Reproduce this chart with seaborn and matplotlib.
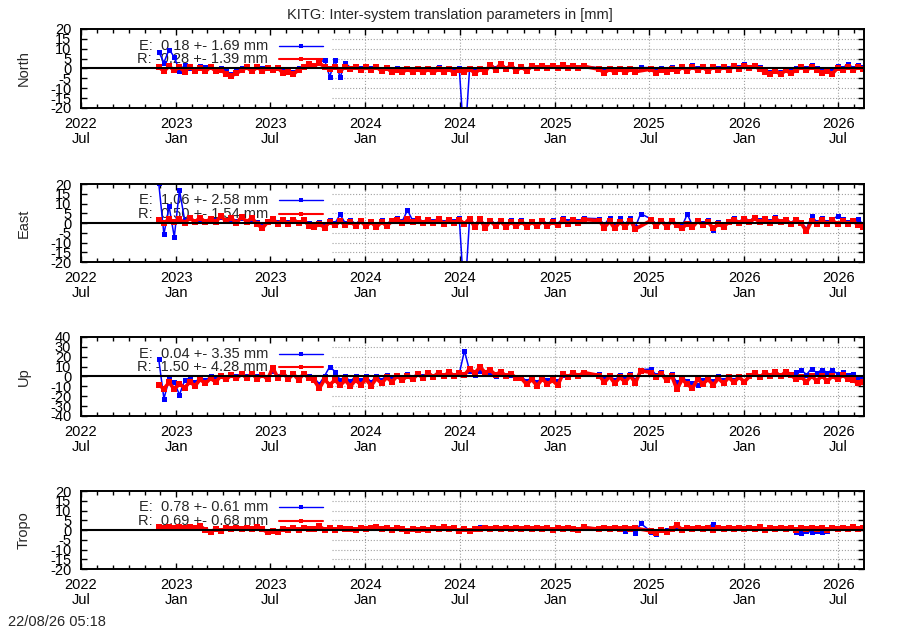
import numpy as np
import pandas as pd
import matplotlib
matplotlib.use("Agg")
import matplotlib.pyplot as plt
import matplotlib.dates as mdates
import seaborn as sns

nan = np.nan

# ---- DATA: one value every 10 days from START, nan = no solution ----
START = "2022-11-28"
STEP = "10D"

NORTH_E = [8.5, 3.0, 9.6, 5.8, -1.2, 1.6, 0.4, -0.8, 1.2, 0.6,
           0.9, -0.4, 0.3, -1.5, -2.6, -1.5, 0.2, 0.9, -0.2, 0.8,
           0.3, 0.9, -0.2, 0.6, -1.4, -0.6, -1.8, 0.2, 1.2, 2.3,
           2.0, 2.8, 4.4, -4.2, 4.3, -4.4, 2.8, 0.4, 0.8, 0.2,
           0.9, 0.1, 1.1, -0.6, 0.6, -1.0, 0.2, -1.1, 0.4, -0.9,
           0.4, -1.0, 0.3, -1.2, 0.5, -1.0, 0.2, -1.3, 0.1, -40.0,
           0.4, -1.3, 0.2, -0.8, 2.2, 0.3, 2.6, 0.4, 1.9, -0.4,
           1.2, -0.5, 1.5, 0.8, 1.6, 0.9, 1.7, 0.8, 1.8, 0.9,
           1.5, 0.8, 1.2, nan, nan, 0.3, -1.2, 0.4, -1.0, 0.3,
           -1.1, 0.2, -0.8, 0.5, nan, 0.4, -1.2, 0.1, -1.0, 0.5,
           -0.6, 1.3, -0.3, 1.6, 0.1, 1.4, -0.2, 1.5, 0.2, 1.4,
           0.3, 2.0, 0.6, 2.4, 0.9, 1.9, 0.5, -0.9, -1.7, -0.3,
           -2.0, -0.2, -1.5, 0.1, 1.3, 0.2, 1.6, 0.3, -1.2, -0.4,
           -1.5, 1.4, 0.3, 2.3, 0.4, 1.6, 0.5]
NORTH_R = [0.8, -1.4, 1.1, -1.0, 0.6, -1.6, 0.9, -1.2, 0.4, -1.5,
           0.7, -1.3, -0.8, -2.6, -3.8, -2.4, -0.9, 0.5, -1.4, 0.6,
           -1.2, 0.4, -1.0, 0.3, -2.4, -1.6, -2.9, -0.6, 0.8, 2.2,
           1.4, 2.6, 0.9, -0.4, 1.0, -0.8, 0.6, -0.5, 0.9, -0.7,
           0.5, -0.6, 0.8, -1.3, 0.2, -1.8, -0.6, -1.9, -0.4, -1.7,
           -0.3, -1.9, -0.5, -2.0, -0.2, -1.8, -0.4, -2.1, -0.6, -1.7,
           -0.3, -2.2, -0.5, -1.6, 1.8, -0.6, 2.4, -0.4, 1.6, -1.2,
           0.9, -1.3, 1.2, 0.1, 1.5, 0.3, 1.4, 0.2, 1.6, 0.4,
           1.3, 0.2, 1.1, nan, nan, -0.4, -2.2, -0.3, -1.9, -0.2,
           -2.0, -0.5, -1.6, nan, nan, -0.3, -2.1, -0.6, -1.8, -0.2,
           -1.5, 0.6, -1.1, 0.8, -0.9, 0.5, -1.2, 0.7, -0.8, 0.6,
           -0.6, 1.2, -0.2, 1.4, 0.1, 1.1, -0.3, -1.8, -2.6, -1.2,
           -2.9, -1.0, -2.4, -0.8, 0.7, -0.9, 0.9, -0.6, -2.3, -1.4,
           -2.6, 0.2, -0.9, 0.8, -0.7, 0.6, -0.5]

EAST_E = [20.5, -5.8, 8.5, -7.2, 17.0, 1.5, 2.9, 1.2, 2.2, 1.0,
          1.8, 1.3, 2.9, 1.1, 2.0, 0.8, 2.6, 1.2, 2.3, 0.4,
          -1.5, 1.1, 2.4, 0.5, 2.0, 0.3, 2.2, 0.4, 1.9, -0.2,
          -1.1, 0.6, -1.0, 1.4, -0.2, 4.4, -0.1, 1.5, -0.4, 1.6,
          -0.6, 1.2, -1.1, 1.4, -0.5, 1.6, 2.4, 0.9, 6.6, 1.3,
          2.5, 0.7, 2.3, 0.9, 2.6, 0.6, 2.1, 1.0, 2.4, -40.0,
          2.8, -1.2, 2.5, -1.4, 1.7, -0.6, 1.5, -1.0, 1.4, -0.8,
          1.4, -0.9, 1.2, -0.7, 1.6, -0.5, 1.3, -0.3, 2.4, 1.2,
          2.3, 1.1, 2.5, nan, nan, 2.2, -1.0, 2.8, -1.5, 2.5,
          -0.6, 2.6, -1.8, 4.8, nan, 2.1, -0.5, 1.8, -0.9, 1.7,
          -0.4, -1.5, 4.5, -1.2, 1.6, 0.1, 1.3, -3.4, 0.3, -1.0,
          1.2, 2.5, 0.6, 2.8, 1.1, 3.0, 1.3, 2.6, 0.9, 2.9,
          1.0, 2.3, 0.2, 2.1, 0.6, -3.0, 3.6, 0.5, 2.4, 0.4,
          2.1, 3.4, 1.9, 0.6, 1.7, 2.2, -1.2]
EAST_R = [1.8, -0.2, 2.1, 0.3, 1.9, 0.2, 2.4, 0.6, 2.7, 0.4,
          2.2, 0.5, 3.6, 0.8, 2.5, 0.1, 3.1, 0.7, 2.6, -0.6,
          -2.6, 0.4, 1.9, -0.3, 1.6, -0.5, 1.8, -0.2, 1.4, -1.3,
          -2.1, -0.4, -2.3, 0.6, -1.2, 0.9, -1.0, 0.7, -1.4, 0.8,
          -1.6, 0.5, -2.2, 0.6, -1.5, 0.9, 1.8, 0.2, 2.1, 0.4,
          1.9, -0.2, 1.6, 0.1, 2.0, -0.3, 1.5, 0.2, 1.7, -0.4,
          2.3, -2.2, 1.9, -2.4, 1.0, -1.5, 0.8, -1.9, 0.6, -1.7,
          0.7, -1.8, 0.5, -1.6, 0.9, -1.4, 0.6, -1.2, 1.4, -0.3,
          1.6, 0.2, 1.8, nan, nan, 1.2, -2.4, 0.9, -2.8, 0.6,
          -1.9, 1.1, -3.0, nan, nan, 1.3, -1.5, 1.0, -1.8, 0.8,
          -1.2, -2.6, -0.4, -2.1, 0.9, -0.9, 0.6, -2.8, -0.5, -1.9,
          0.4, 1.8, -0.2, 2.1, 0.3, 2.4, 0.5, 1.9, 0.1, 2.2,
          0.3, 1.6, -0.6, 1.4, -0.2, -4.3, 1.2, -0.4, 1.5, -0.5,
          1.3, -0.6, 1.1, -0.3, 0.9, -0.9, -2.2]

UP_E = [17.5, -22.5, -3.0, -6.0, -18.5, -4.0, -2.5, -6.0, -1.0, -4.0,
        0.0, -3.0, 2.0, -1.0, 2.5, 0.0, 3.5, 0.5, 3.5, 0.0,
        2.5, -1.0, 6.0, 0.5, 3.5, -0.5, 3.0, -1.5, 3.5, 0.0,
        -1.5, -7.5, 0.5, 10.0, 5.0, -3.5, 0.0, -5.0, 0.5, -4.0,
        0.0, -5.5, 1.0, -3.5, 1.5, -2.5, 2.0, -1.5, 2.5, -0.5,
        3.0, 0.5, 3.5, 1.0, 4.0, 1.5, 4.0, 1.5, 3.0, 26.0,
        5.5, 2.0, 6.0, 2.5, 4.0, 0.5, 3.5, 0.0, 2.0, -0.5,
        -0.5, -4.5, -1.0, -6.0, -0.5, -4.0, -1.5, -5.0, 2.0, 0.5,
        2.5, 1.0, 3.0, nan, nan, 2.5, -3.0, 2.0, -4.0, 1.5,
        -2.5, 2.5, -3.5, 7.0, nan, 7.5, 1.5, 5.0, -1.5, 2.5,
        -6.0, -1.0, -4.5, -7.0, -8.5, -4.0, -1.0, -5.0, 0.0, -4.0,
        0.5, -3.5, 1.0, -5.5, 1.5, 2.5, 0.0, 3.0, 1.5, 3.5,
        1.5, 4.0, 2.5, 4.5, 6.5, 2.0, 8.0, 3.5, 7.0, 4.0,
        6.5, 2.5, 4.5, 1.5, 3.0, -1.0, -3.0]
UP_R = [-8.5, -12.5, -6.0, -13.0, -7.5, -11.5, -5.5, -9.5, -3.0, -7.0,
        -2.0, -5.5, 0.5, -3.0, 1.5, -2.0, 2.5, -1.5, 3.0, -2.5,
        2.0, -3.0, 9.0, -1.5, 3.5, -2.5, 2.5, -3.5, 3.0, -2.0,
        -4.0, -12.0, -3.0, -8.5, -3.5, -9.0, -4.0, -10.0, -3.5, -8.5,
        -3.0, -9.5, -2.0, -7.0, -1.0, -5.5, 0.5, -4.0, 1.0, -3.0,
        2.5, -1.5, 3.5, -0.5, 4.0, 0.0, 4.5, 0.5, 3.5, 1.5,
        8.0, 3.5, 9.5, 4.0, 6.5, 1.5, 5.0, 0.5, 2.5, -1.5,
        -2.0, -8.0, -3.0, -9.5, -2.5, -7.5, -4.0, -9.0, 2.5, -0.5,
        3.5, 0.5, 4.0, nan, nan, 1.0, -6.0, 0.0, -7.0, -1.0,
        -5.5, 0.5, -6.5, 6.0, nan, 4.0, -1.0, 3.0, -4.0, 0.5,
        -13.0, -3.0, -8.0, -12.0, -2.5, -7.5, -3.0, -8.5, -2.0, -7.0,
        -1.0, -6.0, -0.5, -5.5, 0.0, 3.5, -1.0, 4.0, 0.5, 4.5,
        0.0, 5.0, 1.5, -3.0, -0.5, -5.5, 0.5, -4.5, 1.0, -5.0,
        0.5, -3.0, 1.5, -2.5, -4.0, -7.0, -5.5]

TROPO_E = [1.9, 1.3, 2.0, 1.4, 1.8, 1.2, 2.0, 1.5, 2.1, 0.7,
           -0.3, 0.8, -0.1, 1.5, 0.9, 1.6, 0.8, 1.4, 1.0, 1.6,
           0.9, -0.6, 0.2, -0.4, 1.0, 0.6, 1.2, 0.3, 1.3, 0.8,
           1.1, 1.6, 0.7, 1.2, 0.6, 1.3, 0.8, 1.2, 0.7, 1.4,
           0.8, 1.2, 1.5, 0.9, 1.3, 0.7, 1.2, 0.8, 0.2, 0.9,
           0.6, 1.1, 0.7, 1.3, 0.8, 1.4, 0.9, 1.2, 0.1, 0.9,
           -0.2, 1.1, 1.4, 1.0, 0.8, 1.3, 0.9, 1.4, 0.8, 1.2,
           0.9, 1.5, 0.8, 1.3, 1.0, 1.2, 0.7, 1.1, 0.9, 1.3,
           1.0, 0.6, 1.6, nan, nan, 0.8, 1.4, 0.9, 1.5, 1.0,
           -0.4, 0.8, -1.6, 3.4, nan, -0.8, -2.0, 0.6, -0.2, 1.0,
           1.8, 0.6, 1.2, 0.7, 1.3, 0.8, 1.5, 3.3, 1.2, 0.7,
           1.3, 0.8, 1.5, 0.7, 1.2, 0.9, 1.6, 0.6, 1.2, 0.8,
           1.3, 0.7, 1.1, -0.8, -1.3, -0.5, -1.2, -0.6, -1.1, -0.4,
           1.4, 0.7, 1.3, 0.8, 1.5, 0.9, 1.4]
TROPO_R = [1.6, 0.9, 1.7, 1.0, 1.5, 0.8, 1.8, 1.1, 1.9, 0.2,
           -0.8, 0.3, -0.6, 1.1, 0.4, 1.2, 0.3, 1.0, 0.5, 1.3,
           0.4, -1.2, -0.3, -0.9, 0.6, 0.1, 0.8, -0.2, 0.9, 0.3,
           0.7, 1.9, 0.2, 0.8, 0.1, 0.9, 0.3, 0.7, 0.2, 1.0,
           0.3, 0.8, 1.8, 0.4, 0.9, 0.2, 0.8, 0.3, -0.4, 0.5,
           0.1, 0.7, 0.2, 0.9, 0.3, 1.7, 0.4, 0.8, -0.6, 0.5,
           -0.5, 0.7, 0.3, 0.9, 0.4, 1.0, 0.5, 1.1, 0.3, 0.9,
           0.4, 1.2, 0.3, 1.0, 0.5, 0.9, 0.2, 0.8, 0.4, 1.0,
           0.6, 0.2, 1.3, nan, nan, 0.4, 1.1, 0.5, 1.2, 0.6,
           1.0, 0.3, 0.9, nan, nan, -0.5, -1.3, 0.2, -0.8, 0.6,
           2.4, 0.2, 0.9, 0.3, 1.0, 0.4, 1.1, 0.2, 0.9, 0.3,
           1.0, 0.4, 1.2, 0.3, 0.8, 0.5, 1.3, 0.2, 0.9, 0.4,
           1.0, 0.3, 0.8, 0.2, 0.9, 0.3, 1.1, 0.4, 1.0, 0.2,
           1.2, 0.3, 1.0, 0.4, 1.3, 0.5, 1.1]

PANELS = ["North", "East", "Up", "Tropo"]
LEGEND_E = ["E:  0.18 +- 1.69 mm", "E:  1.06 +- 2.58 mm",
            "E:  0.04 +- 3.35 mm", "E:  0.78 +- 0.61 mm"]
LEGEND_R = ["R: -0.28 +- 1.39 mm", "R:  0.50 +- 1.54 mm",
            "R: -1.50 +- 4.28 mm", "R:  0.69 +- 0.68 mm"]
YLIM = [20, 20, 40, 20]
YSTEP = [5, 5, 10, 5]
TICK_DATES = ["2022-07-01", "2023-01-01", "2023-07-01", "2024-01-01", "2024-07-01",
              "2025-01-01", "2025-07-01", "2026-01-01", "2026-07-01"]
XMIN, XMAX = "2022-07-01", "2026-08-20"
TITLE = "KITG: Inter-system translation parameters in [mm]"
STAMP = "22/08/26 05:18"
# -------------------------------------------------------------------------

sns.set_theme(style="ticks")
plt.rcParams["font.family"] = ["Liberation Sans", "DejaVu Sans"]
plt.rcParams["font.size"] = 10.5
plt.rcParams["axes.unicode_minus"] = False

dates = pd.date_range(START, periods=len(NORTH_E), freq=STEP)
series = [(NORTH_E, NORTH_R), (EAST_E, EAST_R), (UP_E, UP_R), (TROPO_E, TROPO_R)]
for e, r in series:
    assert len(e) == len(dates) and len(r) == len(dates)

# axes boxes in figure fraction (left, bottom, width, height)
BOXES = [(0.09, 0.8286, 0.87, 0.1254),
         (0.09, 0.5841, 0.87, 0.1238),
         (0.09, 0.3397, 0.87, 0.1254),
         (0.09, 0.0968, 0.87, 0.1238)]
KEY_X = 0.32   # grid is hidden left of this (under the key)


def plot_panel(ax, name, e_vals, r_vals, lim, step, leg_e, leg_r):
    # blue (E) first, red (R) drawn on top; thick lines so the daily-ish
    # scatter reads as a band like the original
    for vals, col, lw, ms in ((e_vals, "#0000ff", 1.1, 3.6), (r_vals, "#ff0000", 2.6, 4.0)):
        df = pd.DataFrame({"date": dates, "val": vals}).dropna()
        sns.lineplot(data=df, x="date", y="val", ax=ax, color=col, lw=lw,
                     marker="s", markersize=ms, markeredgewidth=0,
                     estimator=None, sort=False, zorder=2)

    ax.set_xlim(pd.Timestamp(XMIN), pd.Timestamp(XMAX))
    ax.set_ylim(-lim, lim)
    yt = np.arange(-lim, lim + 1, step)
    ax.set_yticks(yt)
    ax.set_yticklabels([str(v) for v in yt])
    ticks = pd.to_datetime(TICK_DATES)
    ax.set_xticks(ticks)
    ax.set_xticklabels([f"{d.year}\n{d.strftime('%b')}" for d in ticks])
    for lab in ax.get_xticklabels():
        lab.set_linespacing(1.05)
    ax.xaxis.set_minor_locator(mdates.MonthLocator())

    ax.tick_params(which="both", direction="in", top=True, right=True,
                   width=1, colors="black", labelsize=10.5)
    ax.tick_params(axis="x", which="major", length=4, pad=6.5)
    ax.tick_params(axis="x", which="minor", length=3)
    ax.tick_params(axis="y", which="major", length=4, pad=7)
    for sp in ax.spines.values():
        sp.set_linewidth(1.4)
        sp.set_color("black")

    # dotted grid, only right of the key area
    for y in yt[1:-1]:
        ax.axhline(y, xmin=KEY_X, xmax=1, ls=":", color="#a0a0a0", lw=0.8, zorder=0.5)
    x0, x1 = mdates.date2num(pd.Timestamp(XMIN)), mdates.date2num(pd.Timestamp(XMAX))
    for t in ticks:
        if (mdates.date2num(t) - x0) / (x1 - x0) > KEY_X:
            ax.axvline(t, ls=":", color="#a0a0a0", lw=0.8, zorder=0.5)
    ax.axhline(0, color="black", lw=1.5, zorder=3)

    # key
    for yk, txt, col, lw in ((0.79, leg_e, "#0000ff", 1.0), (0.615, leg_r, "#ff0000", 1.5)):
        ax.text(0.239, yk, txt, transform=ax.transAxes, ha="right", va="center",
                fontsize=10.5, zorder=1.5)
        ax.plot([0.253, 0.309], [yk, yk], transform=ax.transAxes, color=col, lw=lw, zorder=1.5)
        ax.plot([0.281], [yk], "s", transform=ax.transAxes, color=col, ms=3.4, mew=0, zorder=1.5)

    ax.set_xlabel("")
    ax.set_ylabel(name, fontsize=10.5)
    ax.yaxis.set_label_coords(-0.064, 0.5)


fig = plt.figure(figsize=(9, 6.3), dpi=100)
for i, name in enumerate(PANELS):
    ax = fig.add_axes(BOXES[i])
    plot_panel(ax, name, series[i][0], series[i][1], YLIM[i], YSTEP[i],
               LEGEND_E[i], LEGEND_R[i])

fig.text(0.5, 1 - 15 / 630, TITLE, ha="center", va="center", fontsize=10.5)
fig.text(8 / 900, 1 - 622 / 630, STAMP, ha="left", va="center", fontsize=10.5)

fig.savefig("out.png", dpi=100, facecolor="white")
print("Saved out.png")
